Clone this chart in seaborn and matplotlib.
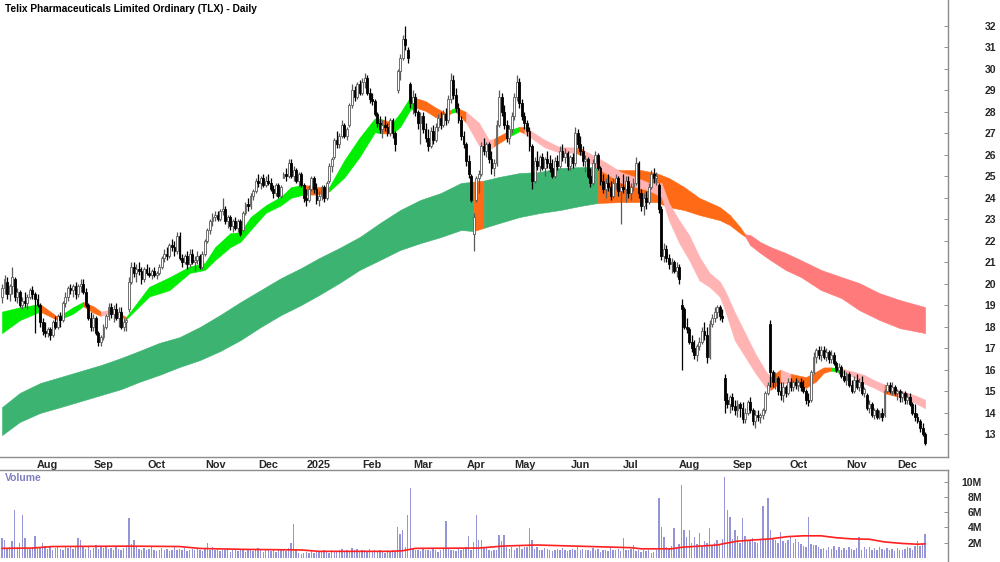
import numpy as np
import pandas as pd
import matplotlib
matplotlib.use("Agg")
import matplotlib.pyplot as plt
import seaborn as sns

# =============================================================================
# DATA  (one entry per trading day)
# =============================================================================
start_day = "2024-07-05"
end_day = "2025-12-09"
asx_holidays = ["2024-12-25", "2024-12-26", "2025-01-01", "2025-01-27",
                "2025-04-18", "2025-04-21", "2025-04-25", "2025-06-09"]

open_px = [
    19.4, 19.8, 20.1, 19.5, 19.9, 20.2, 19.4, 19.6, 19.0, 19.2, 19.1, 19.4, 19.7, 19.5, 19.3, 19.0, 18.2, 17.8, 17.7,
    17.9, 17.6, 18.2, 18.0, 18.5, 18.3, 19.1, 19.4, 19.8, 19.7, 19.9, 19.5, 19.9, 20.0, 19.6, 19.0, 18.4, 18.0, 18.4, 17.7, 17.3, 17.5,
    18.0, 18.5, 18.9, 18.6, 18.8, 18.4, 18.7, 18.0, 18.2, 18.8, 20.1, 20.8, 20.5, 20.7, 20.6, 20.2, 20.7, 20.5, 20.4, 20.6, 20.4,
    20.5, 20.8, 21.2, 21.4, 21.3, 21.8, 21.7, 21.5, 22.2, 21.2, 21.0, 21.3, 20.9, 21.4, 21.0, 21.1, 21.3, 20.8, 21.4, 22.0, 22.5, 22.9, 23.1,
    23.2, 23.0, 23.4, 23.5, 22.9, 23.1, 22.7, 22.9, 22.6, 22.9, 22.5, 23.3, 23.7, 23.6, 24.1, 24.3, 24.8, 24.7, 24.9, 24.6, 24.8,
    24.7, 24.4, 24.2, 24.6, 24.1, 24.9, 25.1, 25.0, 25.6, 25.0, 25.3, 24.8, 25.1, 24.6, 24.0, 23.9, 24.4, 24.9, 24.4, 23.9,
    24.1, 24.5, 24.0, 24.8, 25.5, 25.9, 26.7, 26.5, 26.9, 27.4, 26.9, 27.4, 28.3, 29.0, 28.7, 29.3, 28.9, 29.4, 29.6, 28.9, 28.6,
    28.5, 27.9, 27.5, 27.2, 27.4, 27.3, 27.0, 27.6, 27.0, 29.0, 29.9, 30.5, 31.4, 30.9, 29.3, 28.4, 28.7, 28.0, 27.5, 27.8,
    27.2, 26.8, 26.4, 27.1, 26.7, 27.3, 27.7, 27.4, 27.9, 27.6, 28.6, 29.5, 28.8, 28.2, 27.6, 26.9, 26.5, 25.7, 25.0, 22.3, 23.9,
    24.9, 25.1, 26.4, 26.2, 26.5, 25.8, 25.4, 25.6, 27.4, 28.7, 28.0, 27.4, 26.8, 27.2, 27.8, 28.7, 29.4, 28.4, 27.8,
    27.5, 27.1, 26.4, 24.8, 25.7, 25.5, 25.9, 25.4, 25.8, 25.6, 25.4, 25.0, 25.7, 25.5, 26.2, 25.9, 26.1, 25.5, 25.9, 25.6, 27.0, 26.5,
    26.2, 25.7, 25.8, 25.0, 24.7, 25.6, 26.0, 25.4, 24.8, 24.4, 24.7, 24.5, 24.1, 24.7, 24.9, 24.3, 24.5, 24.4, 24.8, 24.2,
    24.5, 24.7, 25.6, 24.2, 23.6, 24.0, 23.8, 24.5, 25.1, 24.9, 24.6, 23.5, 21.3, 21.6, 21.2, 20.9, 21.0, 20.6, 20.8, 19.0, 18.8, 18.0, 17.9,
    17.3, 17.0, 16.7, 17.1, 17.3, 17.8, 17.6, 16.6, 18.1, 18.4, 18.7, 18.9, 18.5, 15.6, 14.6, 14.4, 14.7, 14.3, 14.1, 14.4, 14.2,
    13.7, 14.0, 14.5, 14.1, 13.6, 13.9, 13.8, 13.9, 14.1, 14.9, 18.1, 15.9, 15.4, 15.6, 15.0, 14.8, 15.2, 14.9, 15.4, 15.2, 15.4, 15.3,
    15.4, 15.2, 15.0, 14.6, 14.6, 15.9, 16.6, 16.9, 16.7, 16.9, 16.6, 16.8, 16.5, 16.7, 16.3, 16.0, 16.1, 15.7, 15.5, 15.8, 15.3, 15.0, 15.5,
    15.2, 15.4, 14.9, 14.8, 14.2, 14.4, 13.9, 14.1, 13.8, 14.0, 13.9, 15.0, 15.3, 15.0, 15.2, 14.9, 15.0, 14.7, 14.9, 14.6,
    14.7, 14.4, 14.0, 13.8, 13.6, 13.3, 13.0,
]
high_px = [
    20.0, 20.4, 20.3, 20.0, 20.8, 20.3, 19.8, 19.7, 19.4, 19.6, 19.5, 19.8, 19.9, 19.6, 19.5, 19.1, 18.4, 18.2, 18.0,
    18.0, 18.3, 18.5, 18.6, 18.7, 19.2, 19.6, 19.9, 20.0, 20.0, 20.1, 20.0, 20.2, 20.2, 19.8, 19.1, 18.7, 18.6, 18.5, 17.8, 17.6, 18.1,
    18.6, 19.1, 19.1, 19.0, 19.1, 18.9, 18.9, 18.4, 18.4, 20.3, 21.0, 21.0, 20.9, 21.0, 20.8, 20.8, 20.9, 20.8, 20.7, 20.8, 20.6,
    20.9, 21.3, 21.6, 21.7, 21.9, 22.1, 22.0, 22.4, 22.4, 21.4, 21.4, 21.5, 21.6, 21.6, 21.3, 21.5, 21.4, 21.5, 22.1, 22.6, 23.0, 23.3, 23.4,
    23.4, 23.5, 24.0, 23.6, 23.2, 23.2, 23.0, 23.1, 23.0, 23.0, 23.4, 23.8, 24.0, 24.2, 24.4, 24.9, 25.1, 25.0, 25.1, 25.0, 25.1,
    24.9, 24.6, 24.7, 24.7, 24.6, 25.2, 25.4, 25.8, 25.8, 25.5, 25.4, 25.2, 25.2, 24.7, 24.4, 24.6, 25.0, 25.0, 24.7, 24.3,
    24.6, 24.6, 24.8, 25.6, 25.9, 26.8, 27.1, 27.0, 27.6, 27.5, 27.3, 28.4, 29.3, 29.2, 29.4, 29.5, 29.6, 29.8, 29.7, 29.1, 28.9,
    28.6, 28.0, 27.8, 27.6, 27.8, 27.5, 27.7, 27.7, 27.1, 30.0, 30.7, 31.6, 32.0, 31.0, 29.4, 29.0, 28.9, 28.1, 28.0, 28.0,
    27.5, 27.2, 27.3, 27.4, 27.5, 27.9, 28.0, 28.1, 28.2, 28.8, 29.8, 29.7, 29.1, 28.4, 27.8, 27.1, 26.6, 26.0, 25.1, 23.3, 25.0,
    25.3, 26.6, 26.8, 26.6, 26.6, 26.2, 25.8, 27.6, 29.0, 28.9, 28.3, 27.6, 27.4, 28.0, 28.9, 29.7, 29.6, 28.6, 28.0,
    27.6, 27.3, 26.5, 25.9, 26.2, 26.0, 26.1, 25.9, 26.2, 26.0, 25.8, 25.9, 26.0, 26.4, 26.5, 26.3, 26.2, 26.0, 26.1, 27.3, 27.2, 26.9,
    26.4, 26.0, 25.9, 25.4, 25.8, 26.2, 26.1, 25.5, 25.1, 24.9, 25.1, 24.8, 24.9, 25.1, 25.0, 24.7, 25.1, 25.0, 25.0, 24.7,
    24.9, 25.9, 25.7, 24.4, 24.2, 24.3, 24.7, 25.3, 25.4, 25.2, 24.7, 23.6, 21.9, 21.8, 21.4, 21.2, 21.1, 21.0, 20.9, 19.3, 18.9, 18.4, 18.0,
    17.6, 17.4, 17.2, 17.5, 18.0, 18.2, 18.0, 18.3, 18.6, 18.9, 19.0, 19.0, 18.8, 15.8, 14.9, 14.8, 14.9, 14.6, 14.6, 14.5, 14.5,
    14.2, 14.6, 14.7, 14.2, 14.1, 14.1, 14.0, 14.2, 15.0, 15.4, 18.3, 16.0, 15.9, 15.7, 15.4, 15.4, 15.3, 15.6, 15.6, 15.5, 15.6, 15.5,
    15.6, 15.5, 15.1, 14.9, 16.0, 16.8, 17.0, 17.1, 17.1, 17.1, 17.0, 16.9, 16.9, 16.8, 16.4, 16.3, 16.2, 16.0, 15.9, 15.9, 15.5, 15.7, 15.8,
    15.6, 15.7, 15.2, 14.9, 14.6, 14.5, 14.2, 14.2, 14.1, 14.2, 15.1, 15.4, 15.4, 15.4, 15.3, 15.1, 15.1, 15.0, 15.0, 14.9,
    14.9, 14.5, 14.4, 14.0, 13.7, 13.5, 13.1,
]
low_px = [
    19.1, 19.5, 19.3, 19.2, 19.5, 19.2, 19.1, 18.9, 18.8, 18.9, 18.8, 19.3, 19.3, 17.7, 18.9, 18.0, 17.6, 17.5, 17.5,
    17.4, 17.5, 17.9, 17.9, 18.0, 18.2, 18.9, 19.2, 19.5, 19.4, 19.3, 19.4, 19.6, 19.5, 18.9, 18.3, 17.8, 17.8, 17.6, 17.1, 17.1, 17.4,
    17.9, 18.3, 18.4, 18.2, 18.3, 18.0, 17.9, 17.8, 17.8, 18.7, 20.0, 20.3, 20.1, 20.4, 20.0, 20.1, 20.4, 20.3, 20.2, 20.3, 20.2,
    20.4, 20.7, 21.0, 21.1, 21.2, 21.5, 21.3, 21.4, 21.1, 20.8, 20.9, 20.7, 20.8, 20.9, 20.6, 20.9, 20.7, 20.7, 21.3, 21.9, 22.3, 22.7, 22.9,
    22.9, 22.9, 23.2, 22.8, 22.6, 22.5, 22.4, 22.5, 22.4, 22.2, 22.4, 23.2, 23.4, 23.5, 23.9, 24.2, 24.5, 24.4, 24.5, 24.5, 24.6,
    24.3, 24.0, 24.1, 24.0, 24.0, 24.9, 24.8, 24.9, 24.9, 24.8, 24.7, 24.5, 24.5, 23.8, 23.6, 23.8, 24.3, 24.2, 23.7, 23.6,
    23.9, 23.8, 23.9, 24.7, 25.2, 25.8, 26.3, 26.3, 26.8, 26.8, 26.7, 27.3, 28.2, 28.5, 28.6, 28.8, 28.8, 29.1, 28.8, 28.4, 28.3,
    27.8, 27.3, 27.0, 26.8, 27.1, 26.9, 26.9, 26.8, 26.2, 28.9, 29.5, 30.4, 30.9, 30.3, 28.2, 27.9, 27.8, 27.2, 26.5, 27.0,
    26.6, 26.2, 26.3, 26.5, 26.6, 27.1, 27.2, 27.3, 27.4, 27.5, 28.4, 28.6, 28.0, 27.5, 26.7, 26.3, 25.5, 24.9, 23.8, 21.5, 23.8,
    24.2, 25.0, 26.0, 25.9, 25.6, 25.1, 25.0, 25.5, 27.3, 27.8, 27.2, 26.6, 26.5, 27.0, 27.6, 28.5, 28.2, 27.6, 27.2,
    26.9, 26.2, 24.4, 24.7, 25.3, 25.2, 25.3, 25.0, 25.4, 25.2, 24.9, 24.9, 25.3, 25.4, 25.7, 25.6, 25.3, 25.3, 25.4, 25.5, 26.3, 26.0,
    25.5, 25.2, 24.9, 24.5, 24.6, 25.4, 25.3, 24.6, 24.2, 24.0, 24.3, 23.9, 24.0, 24.4, 24.1, 22.8, 24.2, 23.8, 24.0, 23.9,
    24.3, 24.6, 24.0, 23.4, 23.2, 23.5, 23.7, 24.4, 24.7, 24.6, 23.3, 21.1, 21.0, 21.0, 20.7, 20.5, 20.5, 20.3, 20.0, 16.0, 17.9, 17.7, 17.2,
    16.8, 16.5, 16.4, 16.9, 17.2, 17.4, 16.3, 16.5, 18.0, 18.2, 18.4, 18.3, 18.2, 14.0, 14.2, 14.0, 14.1, 13.9, 13.8, 13.8, 13.5,
    13.5, 13.9, 14.0, 13.4, 13.3, 13.6, 13.5, 13.7, 14.0, 14.8, 15.2, 15.2, 15.1, 14.8, 14.6, 14.5, 14.7, 14.8, 15.0, 15.0, 15.1, 15.0,
    15.0, 14.9, 14.4, 14.3, 14.5, 15.8, 16.3, 16.5, 16.4, 16.5, 16.4, 16.3, 16.3, 16.2, 15.9, 15.8, 15.6, 15.4, 15.3, 15.2, 14.9, 14.9, 15.1,
    15.0, 14.8, 14.7, 14.1, 14.0, 13.8, 13.7, 13.7, 13.7, 13.6, 13.8, 14.9, 14.9, 14.8, 14.8, 14.6, 14.5, 14.5, 14.4, 14.4,
    14.3, 13.9, 13.6, 13.5, 13.1, 12.9, 12.5,
]
close_px = [
    19.8, 20.2, 19.5, 19.9, 20.3, 19.4, 19.6, 19.0, 19.2, 19.1, 19.4, 19.7, 19.5, 19.3, 19.0, 18.2, 17.8, 17.7, 17.9,
    17.6, 18.2, 18.0, 18.5, 18.3, 19.1, 19.4, 19.8, 19.7, 19.9, 19.5, 19.9, 20.0, 19.6, 19.0, 18.4, 18.0, 18.4, 17.7, 17.3, 17.5, 18.0,
    18.5, 18.9, 18.6, 18.8, 18.4, 18.7, 18.0, 18.2, 18.3, 20.1, 20.8, 20.5, 20.7, 20.6, 20.2, 20.7, 20.5, 20.4, 20.6, 20.4, 20.5,
    20.8, 21.2, 21.4, 21.3, 21.8, 21.7, 21.5, 22.2, 21.2, 21.0, 21.3, 20.9, 21.4, 21.0, 21.1, 21.3, 20.8, 21.4, 22.0, 22.5, 22.9, 23.1, 23.2,
    23.0, 23.4, 23.5, 22.9, 23.1, 22.7, 22.9, 22.6, 22.9, 22.3, 23.3, 23.7, 23.6, 24.1, 24.3, 24.8, 24.7, 24.9, 24.6, 24.8, 24.7,
    24.4, 24.2, 24.6, 24.1, 24.5, 25.1, 25.0, 25.6, 25.0, 25.3, 24.8, 25.1, 24.6, 24.0, 23.9, 24.4, 24.9, 24.4, 23.9, 24.1,
    24.5, 24.0, 24.7, 25.5, 25.8, 26.7, 26.5, 26.9, 27.4, 26.9, 27.2, 28.3, 29.0, 28.7, 29.3, 28.9, 29.4, 29.6, 28.9, 28.6, 28.5,
    27.9, 27.5, 27.2, 27.4, 27.3, 27.0, 27.6, 27.0, 26.5, 29.9, 30.5, 31.4, 31.1, 30.5, 28.4, 28.7, 28.0, 27.5, 27.8, 27.2,
    26.8, 26.4, 27.1, 26.7, 27.3, 27.7, 27.4, 27.9, 27.6, 28.6, 29.5, 28.8, 28.2, 27.6, 26.9, 26.5, 25.7, 25.1, 23.9, 23.1, 24.9,
    25.1, 26.4, 26.2, 26.5, 25.8, 25.4, 25.6, 27.4, 28.7, 28.0, 27.4, 26.8, 27.2, 27.8, 28.7, 29.4, 28.4, 27.8, 27.5,
    27.1, 26.4, 24.8, 25.7, 25.5, 25.9, 25.4, 25.8, 25.6, 25.4, 25.0, 25.7, 25.5, 26.2, 25.9, 26.1, 25.5, 25.9, 25.6, 27.0, 26.5, 26.2,
    25.7, 25.8, 25.0, 24.7, 25.6, 26.0, 25.4, 24.8, 24.4, 24.7, 24.5, 24.1, 24.7, 24.9, 24.3, 24.5, 24.4, 24.8, 24.2, 24.5,
    24.7, 25.6, 24.2, 23.6, 24.0, 23.8, 24.5, 25.1, 24.9, 25.0, 23.5, 21.3, 21.6, 21.2, 20.9, 21.0, 20.6, 20.8, 20.2, 18.8, 18.0, 17.9, 17.3,
    17.0, 16.7, 17.1, 17.3, 17.8, 17.6, 16.6, 18.1, 18.4, 18.7, 18.9, 18.5, 18.4, 14.6, 14.4, 14.7, 14.3, 14.1, 14.4, 14.2, 13.7,
    14.0, 14.5, 14.1, 13.6, 13.9, 13.8, 13.9, 14.1, 14.9, 15.3, 15.9, 15.4, 15.6, 15.0, 14.8, 15.2, 14.9, 15.4, 15.2, 15.4, 15.3, 15.4,
    15.2, 15.0, 14.6, 14.5, 15.9, 16.6, 16.9, 16.7, 16.9, 16.6, 16.8, 16.5, 16.7, 16.3, 16.0, 16.1, 15.7, 15.5, 15.8, 15.3, 15.0, 15.5, 15.2,
    15.4, 14.9, 15.1, 14.2, 14.4, 13.9, 14.1, 13.8, 14.0, 13.8, 15.0, 15.3, 15.0, 15.2, 14.9, 15.0, 14.7, 14.9, 14.6, 14.7,
    14.4, 14.0, 13.8, 13.6, 13.3, 13.0, 12.6,
]
volume_m = [
    2.6, 2.4, 1.2, 1.5, 2.2, 6.3, 1.4, 1.9, 5.6, 2.6, 1.3, 1.2, 1.4, 2.9, 1.5, 1.3, 1.9, 1.6, 1.2,
    1.4, 1.1, 1.3, 1.5, 1.2, 1.0, 1.4, 1.3, 1.6, 1.2, 1.5, 2.6, 2.3, 1.4, 1.2, 1.5, 1.1, 1.3, 1.7, 1.2, 1.4, 1.3,
    1.5, 1.2, 1.3, 1.1, 1.4, 1.2, 1.0, 1.3, 1.5, 5.2, 1.8, 2.4, 1.4, 1.2, 1.1, 1.3, 1.0, 1.2, 1.4, 1.1, 0.9,
    1.1, 1.3, 1.0, 1.2, 0.9, 1.1, 1.4, 1.0, 1.2, 1.1, 1.3, 0.9, 1.0, 1.2, 1.1, 1.3, 1.0, 0.9, 1.2, 2.0, 1.1, 1.4, 1.0,
    1.2, 0.9, 1.1, 1.0, 1.3, 0.8, 1.0, 1.2, 0.9, 1.1, 1.0, 0.8, 1.2, 1.0, 0.9, 1.1, 1.3, 1.0, 0.8, 1.1, 1.0,
    0.9, 1.0, 0.8, 1.1, 1.2, 1.0, 0.9, 1.3, 1.9, 4.4, 1.2, 0.7, 0.5, 0.6, 0.8, 0.7, 1.0, 0.6, 0.9, 0.8,
    0.8, 1.0, 0.9, 0.7, 1.1, 0.8, 0.9, 1.0, 1.2, 0.8, 1.1, 0.9, 1.3, 1.0, 1.2, 0.9, 1.1, 1.0, 0.8, 1.2, 0.9,
    1.0, 0.8, 1.1, 0.9, 0.7, 1.0, 0.8, 1.1, 0.9, 4.1, 3.1, 3.6, 1.5, 5.6, 9.1, 1.3, 1.0, 1.1, 0.9, 1.2,
    1.0, 1.1, 0.9, 1.2, 1.0, 0.8, 1.1, 1.3, 4.8, 1.2, 1.0, 1.1, 0.9, 1.2, 1.0, 1.3, 1.4, 2.9, 1.1, 2.1, 5.6,
    2.4, 2.4, 1.5, 1.3, 1.0, 0.9, 1.1, 1.0, 3.0, 2.2, 3.0, 1.4, 1.2, 1.5, 1.1, 1.3, 1.6, 1.2, 1.4,
    1.4, 3.9, 2.4, 1.2, 1.4, 1.1, 1.0, 1.3, 1.2, 1.1, 0.9, 1.0, 1.2, 1.1, 1.3, 1.0, 0.9, 1.1, 1.2, 1.0, 1.4, 1.1,
    1.2, 1.0, 1.1, 0.9, 1.3, 1.0, 1.2, 0.8, 1.1, 1.0, 0.9, 1.4, 1.1, 1.0, 1.2, 0.9, 2.6, 1.1, 1.0, 1.2,
    1.7, 0.9, 1.0, 0.8, 1.1, 0.9, 1.0, 0.7, 0.8, 1.0, 7.8, 4.1, 2.7, 1.5, 1.3, 1.6, 3.9, 1.4, 1.8, 9.5, 3.6, 2.8, 3.6,
    2.0, 2.7, 1.8, 3.3, 1.6, 2.2, 1.9, 3.9, 1.7, 2.0, 2.4, 1.8, 2.5, 10.6, 6.3, 5.4, 2.5, 3.7, 2.9, 2.0, 5.2,
    2.9, 2.2, 2.4, 2.6, 2.1, 2.0, 2.3, 6.8, 2.5, 7.8, 3.7, 2.6, 2.4, 2.0, 3.4, 2.2, 1.9, 2.3, 2.7, 2.0, 2.5, 2.1,
    1.8, 1.6, 1.4, 5.3, 1.8, 1.7, 1.7, 1.4, 1.2, 1.3, 1.0, 1.5, 1.2, 1.6, 1.1, 1.4, 1.0, 1.3, 1.1, 1.5, 1.2, 1.0, 1.3,
    2.8, 1.1, 1.4, 1.2, 1.5, 1.0, 1.3, 1.1, 1.4, 1.2, 1.0, 1.3, 1.1, 1.2, 0.9, 1.3, 1.1, 1.0, 1.2, 1.4,
    1.3, 1.1, 1.6, 2.2, 1.6, 1.8, 3.1,
]

# volume moving average (red line)
vma_idx = [0, 12, 20, 50, 70, 78, 95, 118, 125, 153, 158, 163, 188, 198, 211, 221, 232, 248, 252, 264,
           268, 276, 282, 285, 290, 296, 303, 310, 316, 323, 329, 335, 342, 348, 355, 361, 364]
vma_m = [1.26, 1.3, 1.5, 1.55, 1.5, 1.25, 1.13, 1.05, 0.87, 0.87, 0.95, 1.26, 1.3, 1.57, 1.7, 1.6, 1.5, 1.35, 1.2, 1.2,
         1.4, 1.57, 1.7, 1.9, 2.2, 2.35, 2.5, 2.8, 2.9, 2.9, 2.65, 2.5, 2.45, 2.1, 1.9, 1.8, 1.85]

# short-term ribbon (G = bullish, O = mixed, P = bearish), state holds until next sample
short_idx = [0, 7, 15, 22, 28, 32, 36, 39, 43, 49, 58, 66, 74, 80, 84, 90, 94, 98, 104, 110,
             114, 119, 124, 129, 135, 141, 147, 150, 154, 157, 161, 163, 167, 171, 175, 177, 179, 183, 188, 192,
             194, 198, 200, 204, 206, 214, 220, 226, 229, 232, 238, 244, 250, 255, 260, 263, 267, 271, 275, 279,
             283, 285, 289, 293, 297, 301, 303, 307, 311, 317, 321, 324, 327, 331, 336, 340, 344, 348, 353, 356,
             360, 364]
short_hi = [18.7, 18.9, 19.05, 18.45, 18.9, 19.15, 18.95, 18.7, 18.8, 18.45, 19.85, 20.3, 20.8, 20.96, 21.7, 22.35, 22.4, 23.1, 23.65, 24.05,
            24.5, 24.6, 24.5, 24.5, 25.75, 26.8, 27.7, 27.65, 27.5, 27.95, 28.7, 28.65, 28.5, 28.2, 27.95, 28.1, 28.2, 28.0, 27.5, 26.7,
            26.75, 27.0, 27.15, 27.3, 27.3, 26.7, 26.35, 26.35, 26.25, 26.05, 25.65, 25.2, 24.95, 24.7, 24.7, 23.75, 22.95, 22.25, 21.25, 20.5,
            20.1, 19.7, 18.65, 17.7, 16.75, 15.95, 15.65, 16.0, 15.8, 15.65, 15.9, 16.1, 16.1, 16.05, 15.9, 15.75, 15.5, 15.3, 15.05, 14.95,
            14.8, 14.6]
short_lo = [17.7, 18.3, 18.7, 18.3, 18.6, 18.95, 18.65, 18.5, 18.65, 18.35, 19.4, 19.7, 20.5, 20.64, 21.1, 21.7, 21.95, 22.5, 23.3, 23.65,
            24.0, 24.15, 24.15, 24.3, 24.95, 25.9, 27.05, 27.0, 27.0, 27.3, 28.1, 28.2, 28.05, 27.75, 27.75, 27.95, 28.0, 27.5, 26.45, 26.2,
            26.4, 26.7, 26.85, 27.1, 27.0, 26.35, 26.1, 26.1, 25.95, 25.6, 25.15, 24.7, 24.5, 24.35, 24.05, 22.95, 21.9, 21.1, 20.15, 19.85,
            19.4, 18.8, 17.35, 16.6, 15.85, 15.2, 15.05, 15.4, 15.3, 15.15, 15.45, 15.85, 15.95, 15.85, 15.65, 15.35, 15.15, 14.9, 14.75, 14.65,
            14.45, 14.2]
short_state = "GGOGGOOPOGGGGGGGGGGGGOOGGGGOGGGOOOOGOPPPOOGOPPPOPPPPPPPPPPPPPPPPPPOPOOOOGPPPPOPPPP"

# long-term ribbon (G = bullish, O = mixed, R = bearish)
long_idx = [0, 7, 15, 23, 31, 39, 47, 54, 62, 70, 78, 86, 94, 102, 110, 118, 125, 133, 141, 149,
            157, 165, 173, 181, 186, 190, 196, 204, 212, 220, 228, 235, 244, 252, 258, 263, 269, 275, 283, 287,
            291, 293, 295, 299, 303, 309, 315, 323, 331, 338, 346, 354, 364]
long_hi = [14.25, 14.91, 15.37, 15.65, 15.93, 16.21, 16.54, 16.86, 17.24, 17.51, 17.98, 18.54, 19.14, 19.70, 20.26, 20.73, 21.19, 21.66, 22.17, 22.82,
           23.43, 23.90, 24.22, 24.69, 24.75, 24.80, 24.97, 25.15, 25.20, 25.39, 25.43, 25.43, 25.29, 25.29, 25.15, 24.92, 24.50, 23.99, 23.57, 23.20,
           22.64, 22.30, 22.27, 21.94, 21.71, 21.43, 21.10, 20.64, 20.31, 20.03, 19.56, 19.24, 18.91]
long_lo = [12.95, 13.56, 13.98, 14.25, 14.53, 14.81, 15.09, 15.42, 15.75, 16.12, 16.44, 16.86, 17.37, 17.98, 18.54, 19.01, 19.47, 20.03, 20.64, 21.10,
           21.57, 21.89, 22.17, 22.50, 22.45, 22.60, 22.82, 23.10, 23.29, 23.43, 23.62, 23.76, 23.80, 23.80, 23.80, 23.57, 23.43, 23.20, 22.96, 22.73,
           22.36, 22.20, 21.80, 21.43, 21.10, 20.64, 20.31, 19.70, 19.33, 18.77, 18.31, 17.93, 17.70]
long_state = "GGGGGGGGGGGGGGGGGGGGGGGGOGGGGGGOOOOOOOOOORRRRRRRRRRRR"

price_ticks = list(range(13, 33))
volume_ticks = [2, 4, 6, 8, 10]
title = "Telix Pharmaceuticals Limited Ordinary (TLX) - Daily"

short_colors = {"G": "#00ee00", "O": "#ff6a16", "P": "#ffb3b3"}
long_colors = {"G": "#3cb371", "O": "#ff6a16", "R": "#ff7b7b"}


# =============================================================================
# HELPERS
# =============================================================================
def draw_ribbon(ax, xs, hi, lo, states, palette):
    # one polygon per run of equal state, so no seams inside a run
    k = 0
    last = len(xs) - 1
    while k < last:
        j = k
        while j + 1 < last and states[j + 1] == states[k]:
            j += 1
        c = palette[states[k]]
        ax.fill_between(xs[k:j + 2], lo[k:j + 2], hi[k:j + 2],
                        facecolor=c, edgecolor=c, linewidth=0.4, zorder=1)
        k = j + 1


# =============================================================================
# PLOT
# =============================================================================
def main():
    sns.set_theme(style="white")
    plt.rcParams["font.family"] = ["Liberation Sans", "DejaVu Sans"]
    plt.rcParams["font.weight"] = "bold"

    n = len(close_px)
    for name, arr in [("open", open_px), ("high", high_px), ("low", low_px), ("vol", volume_m)]:
        if len(arr) != n:
            raise ValueError(f"{name}: {len(arr)} vs {n}")

    days = pd.bdate_range(start_day, end_day)
    days = days[~days.isin(pd.to_datetime(asx_holidays))][:n]
    month = pd.Series(days.month)
    starts = np.flatnonzero(month.ne(month.shift()).values)[1:]
    month_lbl = ["2025" if days[i].month == 1 else days[i].strftime("%b") for i in starts]

    x = np.arange(n)
    o, h, l, c = map(np.asarray, (open_px, high_px, low_px, close_px))
    up = c >= o

    W, H = 1000, 562
    fig = plt.figure(figsize=(W / 100, H / 100), dpi=100)
    ax = fig.add_axes([0, 1 - 457 / H, 948 / W, 457 / H])
    axv = fig.add_axes([0, 0, 948 / W, 92 / H])

    xlim = (-0.79, -0.79 + 948 / 2.536)

    # ribbons
    draw_ribbon(ax, long_idx, long_hi, long_lo, long_state, long_colors)
    draw_ribbon(ax, short_idx, short_hi, short_lo, short_state, short_colors)

    # candles
    wick_col = np.where(up, "#5a5a5a", "#000000")
    ax.vlines(x, l, h, colors=wick_col, linewidth=0.9, zorder=3)
    body = np.maximum(np.abs(c - o), 0.06)
    ax.bar(x, body, bottom=np.minimum(o, c), width=0.74,
           color=np.where(up, "#ffffff", "#000000"), edgecolor=wick_col,
           linewidth=0.6, zorder=4)

    ax.set_xlim(*xlim)
    ax.set_ylim(13 - (457 - 434) / 21.47, 32 + 26 / 21.47)
    ax.yaxis.tick_right()
    ax.set_yticks(price_ticks)
    ax.set_yticklabels([str(t) for t in price_ticks], fontsize=7.5, fontweight="bold", ha="right")
    ax.tick_params(axis="y", direction="in", length=3, width=0.6, color="#808080", pad=34.5)
    ax.set_xticks(starts - 1)
    ax.set_xticklabels(month_lbl, fontsize=7.8, fontweight="bold")
    ax.tick_params(axis="x", length=0, pad=2)
    for s in ["top", "left"]:
        ax.spines[s].set_visible(False)
    for s in ["right", "bottom"]:
        ax.spines[s].set_color("#8c8c8c")
        ax.spines[s].set_linewidth(1.0)
    ax.text(5 / 948, 1 - 9 / 457, title, transform=ax.transAxes, fontsize=7.3,
            fontweight="bold", va="center", ha="left", color="black")

    # volume
    axv.bar(x, volume_m, width=0.55, color="#9494d6", linewidth=0, zorder=2)
    sns.lineplot(x=vma_idx, y=vma_m, ax=axv, color="#ff2020", linewidth=1.2, zorder=3)
    axv.set_xlim(*xlim)
    axv.set_ylim(-4 / 7.65, 88 / 7.65)
    axv.yaxis.tick_right()
    axv.set_yticks(volume_ticks)
    axv.set_yticklabels([f"{t}M" for t in volume_ticks], fontsize=7.5, fontweight="bold", ha="right")
    axv.tick_params(axis="y", direction="in", length=3, width=0.6, color="#808080", pad=24.5)
    axv.set_xticks([])
    for s in ["left", "bottom"]:
        axv.spines[s].set_visible(False)
    for s in ["right", "top"]:
        axv.spines[s].set_color("#8c8c8c")
        axv.spines[s].set_linewidth(1.0)
    axv.text(5 / 948, (562 - 478) / 92, "Volume", transform=axv.transAxes, fontsize=7.5,
             fontweight="bold", va="center", ha="left", color="#7f7fbf")

    fig.savefig("out.png", dpi=100)
    plt.close(fig)


if __name__ == "__main__":
    main()
